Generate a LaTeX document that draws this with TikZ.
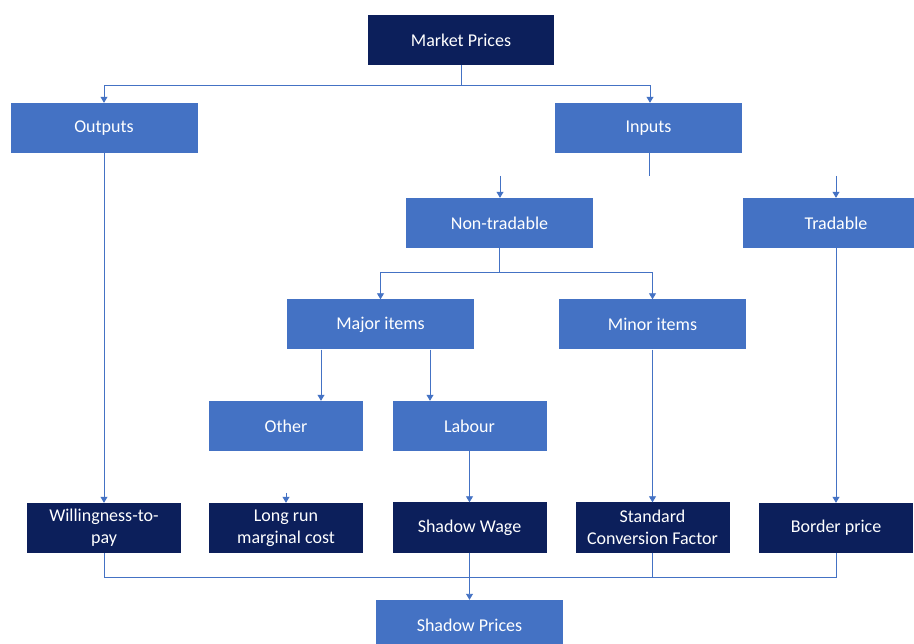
\documentclass[tikz,border=0pt]{standalone}
\usepackage{fontspec}
\setmainfont{Carlito}
\usetikzlibrary{arrows.meta}
\definecolor{navy}{HTML}{0C1F5B}
\definecolor{officeblue}{HTML}{4472C4}
\tikzset{
  box/.style={minimum width=187pt, minimum height=50pt, inner sep=0pt, text=white,
    align=center, font=\fontsize{18}{22}\selectfont},
  lightbox/.style={box, fill=officeblue},
  darkbox/.style={box, fill=navy, minimum width=154pt},
  link/.style={officeblue, line width=0.9pt},
  arrow/.style={link, -{Triangle[width=7pt,length=6pt]}}
}
\begin{document}
\begin{tikzpicture}[x=1pt, y=-1pt]
  \useasboundingbox[fill=white] (0,0) rectangle (914,644);

  % boxes
  \node[darkbox, minimum width=186pt] (market) at (461,40) {Market Prices};
  \node[lightbox] (outputs) at (104,128) {Outputs};
  \node[lightbox] (inputs) at (648.5,128) {Inputs};
  \node[lightbox] (nontrad) at (499.5,223) {Non-tradable};
  \node[lightbox] (trad) at (836,223) {Tradable};
  \node[lightbox] (major) at (380.5,324.5) {Major items};
  \node[lightbox] (minor) at (652.5,324.5) {Minor items};
  \node[lightbox, minimum width=154pt] (other) at (286,426) {Other};
  \node[lightbox, minimum width=154pt] (labour) at (469.5,426) {Labour};
  \node[darkbox] (wtp) at (104,528) {Willingness-to-\\pay};
  \node[darkbox] (lrmc) at (286,528) {Long run\\marginal cost};
  \node[darkbox] (wage) at (469.5,527.5) {Shadow Wage};
  \node[darkbox] (scf) at (652.5,527.5) {Standard\\Conversion Factor};
  \node[darkbox] (border) at (836,528) {Border price};
  \node[lightbox] (shadow) at (469.5,625) {Shadow Prices};

  % top split
  \draw[link] (market.south) -- ++(0,20) coordinate (mp);
  \draw[arrow] (mp) -| (outputs.north);
  \draw[arrow] (mp) -| ([xshift=1.5pt]inputs.north);

  % inputs (loose ends)
  \draw[link] ([xshift=0.5pt]inputs.south) -- ++(0,23);
  \coordinate (ntin) at (500,176);
  \coordinate (trin) at (836,176);
  \draw[arrow] (ntin) -- (ntin |- nontrad.north);
  \draw[arrow] (trin) -- (trad.north);

  % non-tradable split
  \draw[link] (nontrad.south) -- ++(0,24) coordinate (nts);
  \draw[arrow] (nts) -| (major.north);
  \draw[arrow] (nts) -| (minor.north);
  \draw[arrow] ([xshift=35pt]other.north |- major.south) -- ([xshift=35pt]other.north);
  \draw[arrow] ([xshift=-39.5pt]labour.north |- major.south) -- ([xshift=-39.5pt]labour.north);

  % down to the shadow values
  \draw[arrow] (outputs.south) -- (wtp.north);
  \draw[arrow] ([yshift=10pt]lrmc.north) -- (lrmc.north);
  \draw[arrow] (labour.south) -- (wage.north);
  \draw[arrow] (minor.south) -- (scf.north);
  \draw[arrow] (trad.south) -- (border.north);

  % bottom bus
  \coordinate (bus) at (469.5,577);
  \draw[link] (wtp.south) -- (wtp.south |- bus) -- (border.south |- bus) -- (border.south);
  \draw[link] (scf.south) -- (scf.south |- bus);
  \draw[arrow] (wage.south) -- (shadow.north);
\end{tikzpicture}
\end{document}
